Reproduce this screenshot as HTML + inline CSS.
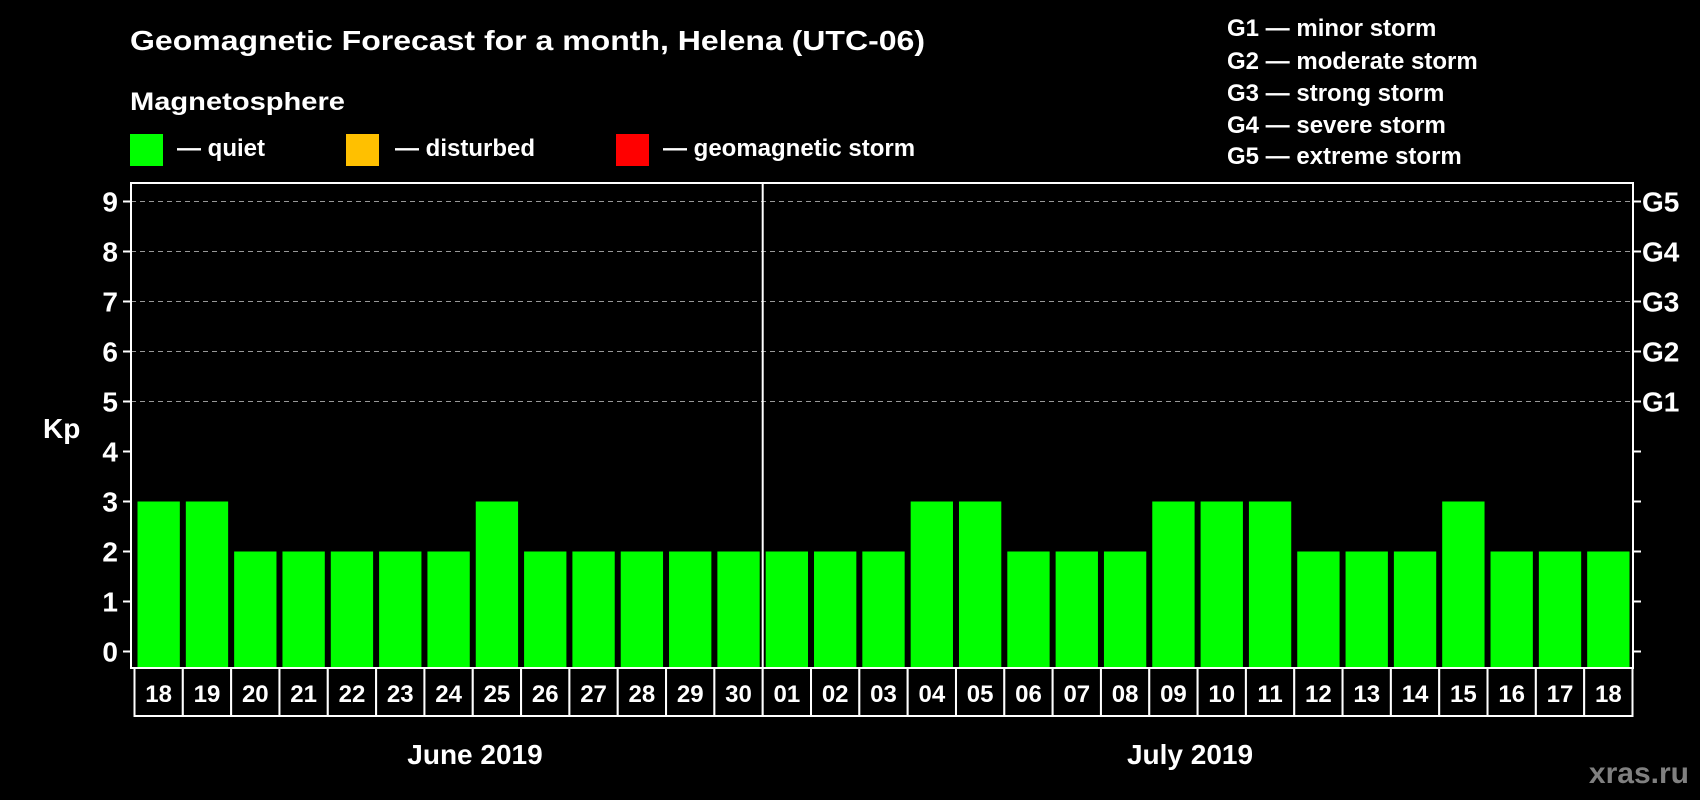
<!DOCTYPE html>
<html><head><meta charset="utf-8"><style>
html,body{margin:0;padding:0;background:#000;}
svg{display:block;font-family:"Liberation Sans",Arial,sans-serif;font-weight:bold;}
</style></head><body>
<svg id="chart" width="1700" height="800" viewBox="0 0 1700 800">
<rect x="0" y="0" width="1700" height="800" fill="#000"/>
<text x="130" y="50" fill="#fff" font-size="28" textLength="795" lengthAdjust="spacingAndGlyphs">Geomagnetic Forecast for a month, Helena (UTC-06)</text>
<text x="130" y="110" fill="#fff" font-size="25" textLength="215" lengthAdjust="spacingAndGlyphs">Magnetosphere</text>
<rect x="130" y="134" width="33" height="32" fill="#00ff00"/>
<text x="177" y="156" fill="#fff" font-size="24">— quiet</text>
<rect x="346" y="134" width="33" height="32" fill="#ffc000"/>
<text x="395" y="156" fill="#fff" font-size="24">— disturbed</text>
<rect x="616" y="134" width="33" height="32" fill="#ff0000"/>
<text x="663" y="156" fill="#fff" font-size="24">— geomagnetic storm</text>
<g fill="#fff" font-size="24">
<text x="1227" y="36">G1 — minor storm</text>
<text x="1227" y="69">G2 — moderate storm</text>
<text x="1227" y="101">G3 — strong storm</text>
<text x="1227" y="133">G4 — severe storm</text>
<text x="1227" y="164">G5 — extreme storm</text>
</g>
<g id="plot"></g>
<text x="475" y="764" fill="#fff" font-size="28" text-anchor="middle">June 2019</text>
<text x="1190" y="764" fill="#fff" font-size="28" text-anchor="middle">July 2019</text>
<text x="1689" y="783" fill="#808080" font-size="30" text-anchor="end">xras.ru</text>
</svg>
<script>
const days = ["18","19","20","21","22","23","24","25","26","27","28","29","30","01","02","03","04","05","06","07","08","09","10","11","12","13","14","15","16","17","18"];
const kpValues = [3,3,2,2,2,2,2,3,2,2,2,2,2,2,2,2,3,3,2,2,2,3,3,3,2,2,2,3,2,2,2];
const yTicks = [0,1,2,3,4,5,6,7,8,9];
const gLabels = ["G1","G2","G3","G4","G5"];
const gLevels = [5,6,7,8,9];
const monthBreakIndex = 13;

const NS="http://www.w3.org/2000/svg";
const plot=document.getElementById('plot');
const L=131,R=1633,T=183,B=668;
const y0=651.5,unit=50;
const yScale=v=>y0-v*unit;
const pitch=(R-L-4)/days.length;
const xLeft=i=>L+3.5+i*pitch;
function mk(tag,attrs){const e=document.createElementNS(NS,tag);for(const k in attrs)e.setAttribute(k,attrs[k]);plot.appendChild(e);return e;}

gLevels.forEach(v=>{
  const g=mk('line',{x1:L,x2:R,y1:yScale(v),y2:yScale(v),stroke:'#999','stroke-width':1,'stroke-dasharray':'5,4'});
  
  
});
kpValues.forEach((v,i)=>{
  const c=v>=5?'#ff0000':(v>=4?'#ffc000':'#00ff00');
  const b=mk('rect',{x:xLeft(i)+3,y:yScale(v),width:pitch-6,height:B-yScale(v),fill:c});
  
  
  const bx=mk('rect',{x:xLeft(i),y:B,width:pitch,height:48,fill:'#000',stroke:'#fff','stroke-width':2});
  
  
  const t=mk('text',{x:xLeft(i)+pitch/2,y:B+34,fill:'#fff','font-size':24,'text-anchor':'middle'});
  t.textContent=days[i];
  
  
});
const frame=mk('rect',{x:L,y:T,width:R-L,height:B-T,fill:'none',stroke:'#fff','stroke-width':2});


const dv=mk('line',{x1:xLeft(monthBreakIndex),x2:xLeft(monthBreakIndex),y1:T,y2:B,stroke:'#fff','stroke-width':2});


yTicks.forEach(v=>{
  const tk=mk('line',{x1:L-8,x2:L,y1:yScale(v),y2:yScale(v),stroke:'#fff','stroke-width':2});
  
  
  const tr=mk('line',{x1:R,x2:R+8,y1:yScale(v),y2:yScale(v),stroke:'#fff','stroke-width':2});
  
  
  const lb=mk('text',{x:118,y:yScale(v)+10,fill:'#fff','font-size':28,'text-anchor':'end'});
  lb.textContent=v;
  
  
});
gLevels.forEach((v,i)=>{
  const lb=mk('text',{x:1642,y:yScale(v)+10,fill:'#fff','font-size':28});
  lb.textContent=gLabels[i];
  
  
});
const kp=mk('text',{x:43,y:438,fill:'#fff','font-size':28});
kp.textContent='Kp';


</script>
</body></html>
